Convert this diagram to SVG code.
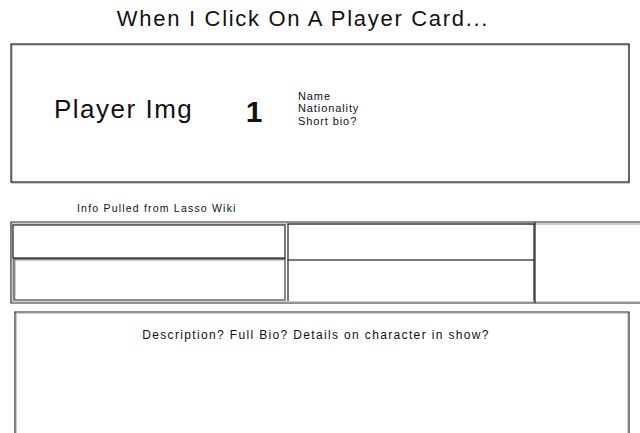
<svg xmlns="http://www.w3.org/2000/svg" width="640" height="433" viewBox="0 0 640 433">
<style>
.b{fill:none;stroke:#222;stroke-width:1.2}
.s{fill:none;stroke:#999;stroke-width:1}
text{font-family:"Liberation Sans","DejaVu Sans",sans-serif;fill:#111}
.sm{font-size:11px;letter-spacing:0.9px}
</style>
<rect width="640" height="433" fill="#fff"/>
<g id="title"><text x="303" y="26" font-size="22" text-anchor="middle" letter-spacing="1.7">When I Click On A Player Card...</text></g>
<g id="player-card">
<rect class="s" x="12" y="45" width="617" height="138"/>
<rect class="b" x="11" y="44" width="618" height="138"/>
<text x="54" y="118" font-size="26" letter-spacing="1.5">Player Img</text>
<text x="254" y="122" font-size="30" font-weight="bold" text-anchor="middle">1</text>
<text class="sm" x="298" y="100">Name</text>
<text class="sm" x="298" y="112">Nationality</text>
<text class="sm" x="298" y="125">Short bio?</text>
</g>
<g id="info-label"><text x="77" y="212" font-size="10.5" letter-spacing="1.2">Info Pulled from Lasso Wiki</text></g>
<g id="info-table">
<path class="b" d="M640 222 L11 222 L11 303 L640 303"/>
<path class="s" d="M640 224 L12 224 L12 302 L640 302"/>
<path class="b" d="M535 222 L535 303"/>
<rect class="b" x="13" y="225" width="272" height="33"/>
<rect class="b" x="14" y="259" width="271" height="41"/>
<rect class="s" x="15" y="260" width="270" height="40"/>
<rect class="b" x="288" y="224" width="246" height="36"/>
<path class="b" d="M288 260 L288 301 M534 260 L534 301"/>
</g>
<g id="description">
<path class="b" d="M15 433 L15 312 L629 312 L629 433"/>
<path class="s" d="M16 433 L16 313 L628 313 L628 433"/>
<text x="316" y="339" font-size="12" letter-spacing="1.35" text-anchor="middle">Description? Full Bio? Details on character in show?</text>
</g>
</svg>
